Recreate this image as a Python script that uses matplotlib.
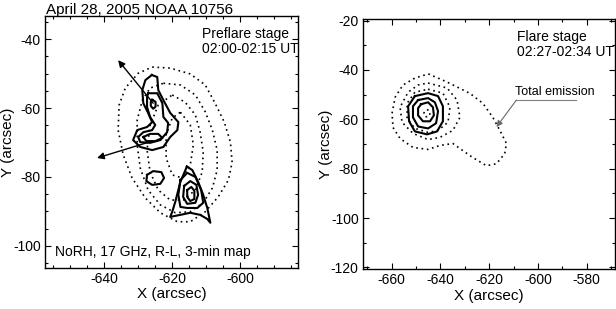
import matplotlib
matplotlib.use("Agg")
import matplotlib.pyplot as plt
from matplotlib.ticker import MultipleLocator

plt.rcParams["font.family"] = ["Liberation Sans", "DejaVu Sans"]
plt.rcParams["font.size"] = 10
plt.rcParams["axes.unicode_minus"] = False

# ---- preflare map (02:00-02:15 UT), contours in arcsec
# total intensity, dotted
pre_total_1 = [(-625.9, -48.1), (-620.6, -48.4), (-614.7, -50.1), (-610.3, -53.3),
               (-607.4, -58.6), (-604.7, -64.1), (-602.9, -69.9), (-602.4, -75.7),
               (-603.5, -80.9), (-606.5, -85.8), (-610.3, -90.1), (-614.7, -93.0),
               (-618.5, -93.0), (-623.5, -90.4), (-627.9, -86.1), (-631.8, -80.3),
               (-634.4, -73.6), (-635.9, -66.4), (-635.6, -59.1), (-633.8, -54.2),
               (-630.0, -49.9)]
pre_total_2 = [(-622.6, -52.8), (-617.6, -53.3), (-613.2, -56.2), (-610.3, -61.1),
               (-608.2, -66.4), (-606.8, -72.2), (-606.8, -78.0), (-608.2, -83.2),
               (-610.9, -87.5), (-614.7, -90.1), (-619.1, -90.4), (-623.5, -88.1),
               (-627.1, -83.8), (-629.4, -77.4), (-630.3, -70.7), (-630.3, -63.5),
               (-628.8, -57.7), (-626.5, -54.2)]
pre_total_3 = [(-620.0, -56.2), (-616.2, -58.3), (-613.2, -62.0), (-611.8, -67.0),
               (-610.9, -72.8), (-611.2, -78.6), (-613.2, -83.8), (-616.8, -86.7),
               (-620.6, -86.7), (-624.1, -83.8), (-626.5, -78.6), (-627.4, -72.2),
               (-626.5, -65.0), (-624.1, -59.1)]
pre_total_4 = [(-617.6, -61.2), (-614.7, -64.9), (-613.8, -70.7), (-614.7, -76.5),
               (-617.1, -80.3), (-620.0, -79.4), (-621.8, -74.5), (-621.8, -67.8),
               (-620.0, -62.9)]

# polarized (R-L), solid
pre_north_1 = [(-626.0, -50.4), (-624.4, -51.0), (-624.1, -54.8), (-622.6, -57.7),
               (-620.6, -61.4), (-618.2, -64.1), (-618.5, -66.4), (-620.6, -68.4),
               (-622.6, -71.3), (-625.9, -72.2), (-629.4, -71.3), (-631.5, -69.3),
               (-630.3, -66.4), (-627.4, -65.5), (-625.9, -64.1), (-627.1, -61.4),
               (-628.5, -58.6), (-628.8, -54.8), (-627.9, -51.9)]
pre_north_2 = [(-627.1, -55.7), (-624.4, -55.7), (-622.9, -58.6), (-622.6, -62.6),
               (-621.2, -64.3), (-621.5, -67.0), (-623.5, -69.3), (-626.5, -70.1),
               (-629.4, -69.9), (-630.0, -68.4), (-628.5, -67.0), (-625.9, -66.4),
               (-625.0, -64.9), (-626.5, -62.6), (-627.4, -59.7), (-627.4, -56.8)]
pre_north_3 = [(-625.9, -57.6), (-624.9, -58.2), (-624.9, -59.6), (-625.6, -60.2),
               (-626.3, -59.4), (-626.3, -58.2)]
pre_north_4 = [(-628.5, -68.4), (-626.5, -67.5), (-624.1, -67.5), (-622.9, -68.7),
               (-625.0, -69.6), (-627.6, -69.6)]
pre_south_1 = [(-615.7, -77.0), (-617.6, -81.4), (-619.1, -87.2), (-620.0, -90.1),
               (-620.6, -91.6), (-617.6, -91.0), (-614.7, -90.4), (-611.8, -91.0),
               (-609.7, -92.2), (-608.8, -93.3), (-609.7, -89.0), (-610.9, -85.2),
               (-612.4, -81.4), (-614.1, -78.0)]
pre_south_2 = [(-617.6, -80.9), (-615.6, -78.8), (-613.2, -80.0), (-611.5, -83.8),
               (-610.9, -87.5), (-612.6, -89.0), (-615.6, -89.0), (-617.6, -88.7),
               (-618.2, -85.2)]
pre_south_3 = [(-616.5, -82.6), (-614.7, -81.2), (-612.9, -82.3), (-612.4, -85.2),
               (-613.2, -87.5), (-615.6, -87.8), (-616.8, -85.8)]
pre_south_4 = [(-615.6, -83.8), (-614.4, -82.9), (-613.5, -84.0), (-613.5, -86.4),
               (-614.7, -87.0), (-615.6, -85.8)]
pre_blob = [(-627.4, -79.4), (-625.6, -78.3), (-623.2, -78.6), (-622.4, -80.3),
            (-623.5, -82.0), (-625.9, -82.3), (-627.6, -81.2)]

# arrows (tail -> head)
pre_arrows = [((-625.6, -58.6), (-635.9, -46.1)),
              ((-625.9, -69.6), (-642.1, -74.5))]

# ---- flare map (02:27-02:34 UT)
fl_total_1 = [(-645.0, -41.6), (-637.5, -44.8), (-627.9, -49.5), (-622.6, -53.5),
              (-618.5, -59.2), (-615.6, -64.5), (-612.9, -69.8), (-613.6, -73.9),
              (-617.0, -78.0), (-621.1, -78.8), (-626.7, -75.5), (-630.8, -72.7),
              (-634.9, -69.8), (-640.2, -70.6), (-645.1, -72.2), (-651.3, -71.4),
              (-656.6, -67.8), (-659.5, -63.3), (-659.9, -57.6), (-658.6, -51.0),
              (-655.4, -46.1), (-650.5, -43.3)]
fl_total_2 = [(-645.1, -45.3), (-637.3, -47.3), (-633.2, -52.2), (-632.0, -59.2),
              (-634.9, -64.5), (-640.2, -67.3), (-645.1, -68.2), (-651.3, -65.7),
              (-655.8, -61.2), (-656.6, -55.1), (-653.3, -49.0), (-649.2, -46.1)]
fl_total_3 = [(-645.1, -47.8), (-639.0, -49.4), (-636.1, -55.1), (-636.9, -61.2),
              (-641.0, -64.5), (-645.1, -65.3), (-650.5, -63.7), (-653.7, -59.6),
              (-653.7, -53.5), (-650.5, -49.0)]
fl_total_4 = [(-645.5, -56.0), (-644.2, -57.0), (-644.6, -58.8), (-646.2, -59.0),
              (-646.8, -57.4)]
fl_pol_1 = [(-650.5, -50.6), (-645.1, -49.4), (-641.0, -50.6), (-639.0, -54.7),
            (-639.0, -60.8), (-641.4, -64.9), (-645.5, -66.1), (-650.5, -64.9),
            (-652.9, -60.8), (-653.3, -54.7)]
fl_pol_2 = [(-649.2, -52.2), (-645.1, -51.4), (-642.3, -53.1), (-641.0, -56.7),
            (-641.8, -61.6), (-645.1, -63.7), (-649.2, -62.9), (-651.3, -59.2),
            (-651.3, -54.7)]
fl_pol_3 = [(-648.0, -53.9), (-645.1, -53.1), (-643.1, -55.1), (-642.7, -58.4),
            (-644.3, -60.8), (-647.2, -60.8), (-649.2, -58.4), (-649.2, -55.5)]
# leader for the "Total emission" label: line end, corner, arrow tip
fl_label_arrow = [(-584.2, -52.2), (-608.8, -52.2), (-617.0, -63.1)]


def draw_contour(ax, pts, dotted=False):
    xs = [p[0] for p in pts] + [pts[0][0]]
    ys = [p[1] for p in pts] + [pts[0][1]]
    if dotted:
        ax.plot(xs, ys, color="black", lw=1.2, ls=(0, (1, 2.2)))
    else:
        ax.plot(xs, ys, color="black", lw=1.5, solid_joinstyle="round")


def style_axes(ax, minor, ylab_x):
    ax.xaxis.set_major_locator(MultipleLocator(20))
    ax.yaxis.set_major_locator(MultipleLocator(20))
    ax.xaxis.set_minor_locator(MultipleLocator(minor))
    ax.yaxis.set_minor_locator(MultipleLocator(minor))
    ax.tick_params(which="both", direction="in", top=True, right=True,
                   labelsize=10, pad=3)
    ax.tick_params(which="major", length=4.5, width=0.8)
    ax.tick_params(which="minor", length=2.5, width=0.8)
    for s in ax.spines.values():
        s.set_linewidth(1.0)
    ax.set_xlabel("X (arcsec)", fontsize=11, labelpad=1)
    ax.set_ylabel("Y (arcsec)", fontsize=11)
    ax.yaxis.set_label_coords(ylab_x, 0.5)


fig = plt.figure(figsize=(6.16, 3.09), dpi=100)

ax = fig.add_axes([0.073, 0.133, 0.411, 0.815])
for c in [pre_total_1, pre_total_2, pre_total_3, pre_total_4]:
    draw_contour(ax, c, dotted=True)
for c in [pre_north_1, pre_north_2, pre_north_3, pre_north_4,
          pre_south_1, pre_south_2, pre_south_3, pre_south_4, pre_blob]:
    draw_contour(ax, c)
for tail, head in pre_arrows:
    ax.annotate("", xy=head, xytext=tail,
                arrowprops=dict(arrowstyle="-|>", color="black", lw=1.0,
                                mutation_scale=10, shrinkA=0, shrinkB=0))
ax.set_xlim(-657.4, -583.0)
ax.set_ylim(-106.4, -33.3)
style_axes(ax, 5, -0.118)
ax.text(0.62, 0.955, "Preflare stage\n02:00-02:15 UT", transform=ax.transAxes,
        ha="left", va="top", fontsize=10, linespacing=1.05)
ax.text(0.04, 0.035, "NoRH, 17 GHz, R-L, 3-min map", transform=ax.transAxes,
        ha="left", va="bottom", fontsize=10)
fig.text(0.075, 0.99, "April 28, 2005 NOAA 10756", ha="left", va="top",
         fontsize=11)

ax = fig.add_axes([0.589, 0.129, 0.409, 0.81])
for c in [fl_total_1, fl_total_2, fl_total_3, fl_total_4]:
    draw_contour(ax, c, dotted=True)
for c in [fl_pol_1, fl_pol_2, fl_pol_3]:
    draw_contour(ax, c)
lx = [p[0] for p in fl_label_arrow[:2]]
ly = [p[1] for p in fl_label_arrow[:2]]
ax.plot(lx, ly, color="gray", lw=0.8)
ax.annotate("", xy=fl_label_arrow[2], xytext=fl_label_arrow[1],
            arrowprops=dict(arrowstyle="-|>", color="dimgray", lw=0.8,
                            mutation_scale=9, shrinkA=0, shrinkB=0))
ax.text(-609.5, -51.4, "Total emission", ha="left", va="bottom", fontsize=9)
ax.set_xlim(-671.9, -568.4)
ax.set_ylim(-120.7, -19.3)
style_axes(ax, 10, -0.12)
ax.text(0.61, 0.955, "Flare stage\n02:27-02:34 UT", transform=ax.transAxes,
        ha="left", va="top", fontsize=10, linespacing=1.05)

fig.savefig("out.png", dpi=100)
plt.close(fig)
